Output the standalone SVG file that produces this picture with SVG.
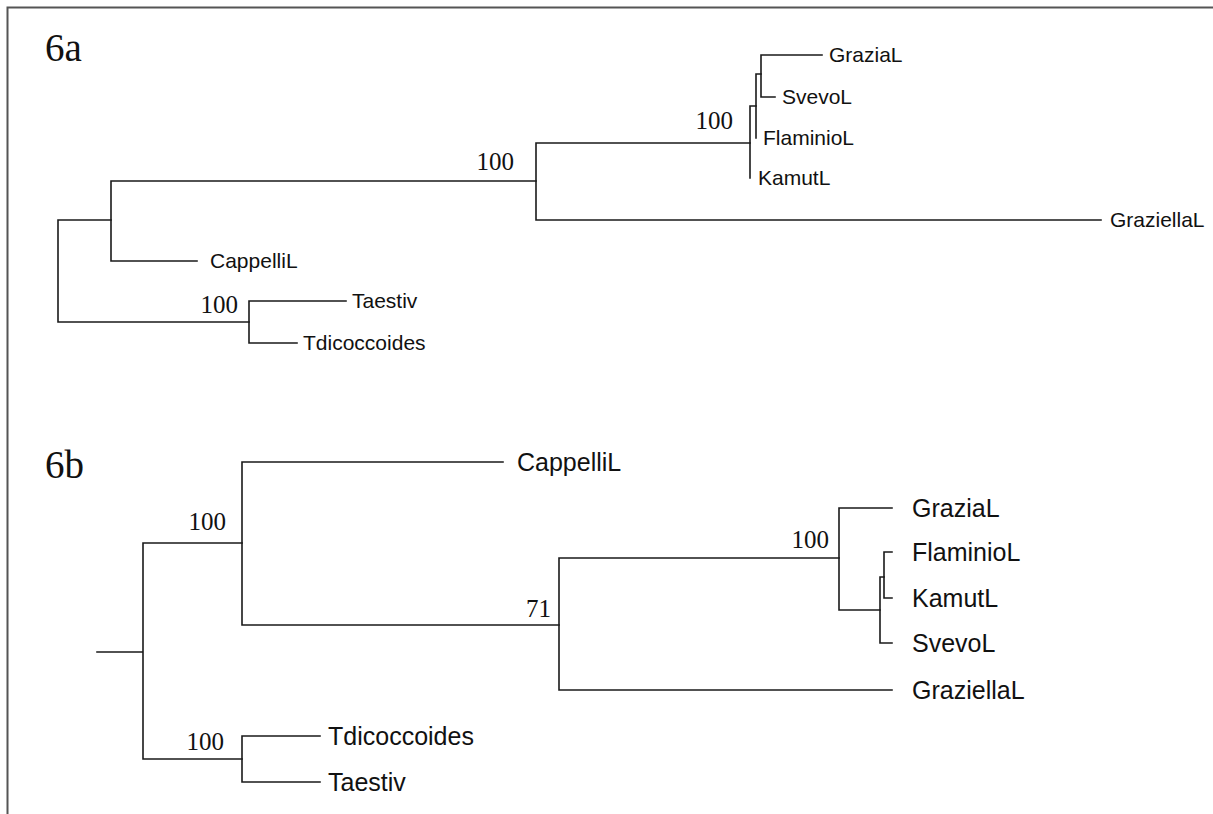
<svg xmlns="http://www.w3.org/2000/svg" width="1213" height="814" viewBox="0 0 1213 814">
<style>
.br{fill:none;stroke:#1a1a1a;stroke-width:1.6;stroke-linecap:square}
.la{font-family:"Liberation Sans",Arial,sans-serif;font-size:21px;fill:#111}
.lb{font-family:"Liberation Sans",Arial,sans-serif;font-size:25px;fill:#111}
.bs{font-family:"Liberation Serif","Times New Roman",serif;font-size:25px;fill:#111;text-anchor:end}
.tt{font-family:"Liberation Serif","Times New Roman",serif;font-size:39px;fill:#111}
</style>
<rect width="1213" height="814" fill="#fff"/>
<path d="M7.5,814 V7.5 H1213" fill="none" stroke="#555" stroke-width="2"/>
<text class="tt" x="45" y="61">6a</text>
<text class="tt" x="45" y="478">6b</text>
<g id="connectors">
<path class="br" d="M58,220 V322 M58,220 H111 M58,322 H249"/>
<path class="br" d="M111,181 V261 M111,181 H536 M111,261 H197"/>
<path class="br" d="M249,301 V343 M249,301 H346 M249,343 H297"/>
<path class="br" d="M536,143 V220 M536,143 H750 M536,220 H1101"/>
<path class="br" d="M750,106 V178 M750,106 H756"/>
<path class="br" d="M756,74 V138 M756,74 H761"/>
<path class="br" d="M761,55 V97 M761,55 H822 M761,97 H775"/>
<path class="br" d="M97,652 H143 M143,543 V759 M143,543 H242 M143,759 H242"/>
<path class="br" d="M242,462 V625 M242,462 H503 M242,625 H559"/>
<path class="br" d="M559,558 V690 M559,558 H839 M559,690 H892"/>
<path class="br" d="M839,508 V610 M839,508 H892 M839,610 H880"/>
<path class="br" d="M880,577 V643 M880,643 H892 M880,577 H884"/>
<path class="br" d="M884,552 V598 M884,552 H892 M884,598 H892"/>
<path class="br" d="M242,736 V782 M242,736 H320 M242,782 H320"/>
</g>
<g id="support">
<text class="bs" x="238" y="313">100</text>
<text class="bs" x="514" y="170">100</text>
<text class="bs" x="733" y="129">100</text>
<text class="bs" x="226" y="530">100</text>
<text class="bs" x="224" y="750">100</text>
<text class="bs" x="829" y="548">100</text>
<text class="bs" x="551" y="617">71</text>
</g>
<g id="a-CappelliL"><text class="la" x="210" y="268">CappelliL</text></g>
<g id="a-Taestiv"><text class="la" x="352" y="308">Taestiv</text></g>
<g id="a-Tdicoccoides"><text class="la" x="303" y="350">Tdicoccoides</text></g>
<g id="a-GraziellaL"><text class="la" x="1110" y="227">GraziellaL</text></g>
<g id="a-GraziaL"><text class="la" x="829" y="62">GraziaL</text></g>
<g id="a-SvevoL"><text class="la" x="782" y="104">SvevoL</text></g>
<g id="a-FlaminioL"><text class="la" x="763" y="145">FlaminioL</text></g>
<g id="a-KamutL"><text class="la" x="758" y="185">KamutL</text></g>
<g id="b-CappelliL"><text class="lb" x="517" y="471">CappelliL</text></g>
<g id="b-GraziaL"><text class="lb" x="912" y="517">GraziaL</text></g>
<g id="b-FlaminioL"><text class="lb" x="912" y="561">FlaminioL</text></g>
<g id="b-KamutL"><text class="lb" x="912" y="607">KamutL</text></g>
<g id="b-SvevoL"><text class="lb" x="912" y="652">SvevoL</text></g>
<g id="b-GraziellaL"><text class="lb" x="912" y="699">GraziellaL</text></g>
<g id="b-Tdicoccoides"><text class="lb" x="328" y="745">Tdicoccoides</text></g>
<g id="b-Taestiv"><text class="lb" x="328" y="791">Taestiv</text></g>
</svg>
